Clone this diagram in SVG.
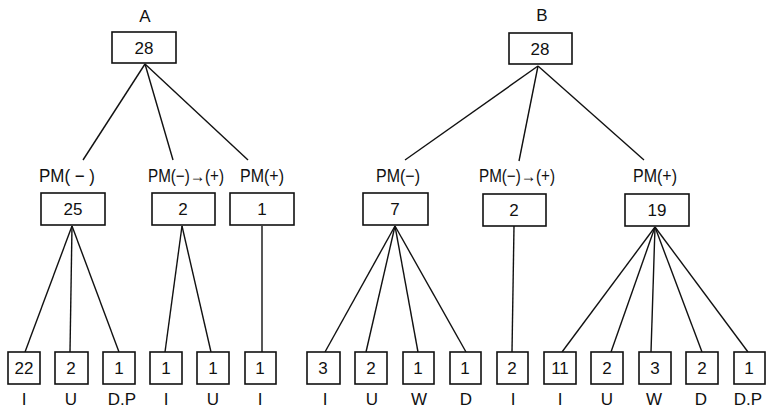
<svg xmlns="http://www.w3.org/2000/svg" width="766" height="414" viewBox="0 0 766 414">
<style>
rect{fill:#fff;stroke:#111;stroke-width:1.6}
line{stroke:#111;stroke-width:1.4}
text{font-family:"Liberation Sans",Arial,sans-serif;font-size:17px;fill:#111;text-anchor:middle}
.pm{font-size:18px}
</style>
<rect x="0" y="0" width="766" height="414" style="fill:#fff;stroke:none"/>
<g id="connectors">
<line x1="145" y1="64" x2="83" y2="160"/>
<line x1="145" y1="64" x2="173" y2="160"/>
<line x1="145" y1="64" x2="248" y2="160"/>
<line x1="72" y1="226" x2="25" y2="352"/>
<line x1="72" y1="226" x2="70" y2="352"/>
<line x1="72" y1="226" x2="119" y2="352"/>
<line x1="182" y1="226" x2="165" y2="352"/>
<line x1="182" y1="226" x2="211" y2="352"/>
<line x1="262" y1="226" x2="262" y2="352"/>
<line x1="538" y1="66" x2="405" y2="160"/>
<line x1="538" y1="66" x2="519" y2="161"/>
<line x1="538" y1="66" x2="644" y2="160"/>
<line x1="395" y1="226" x2="325" y2="352"/>
<line x1="395" y1="226" x2="366" y2="352"/>
<line x1="395" y1="226" x2="418" y2="352"/>
<line x1="395" y1="226" x2="466" y2="352"/>
<line x1="514" y1="226" x2="512" y2="352"/>
<line x1="655" y1="227" x2="562" y2="352"/>
<line x1="655" y1="227" x2="611" y2="352"/>
<line x1="655" y1="227" x2="651" y2="352"/>
<line x1="655" y1="227" x2="702" y2="352"/>
<line x1="655" y1="227" x2="748" y2="352"/>
</g>
<g id="A"><text x="145" y="22">A</text><rect x="112" y="32" width="64" height="31"/><text x="144" y="54">28</text></g>
<g id="B"><text x="542" y="21">B</text><rect x="509" y="33" width="63" height="31"/><text x="540" y="55">28</text></g>
<g id="A-pm-minus"><text class="pm" x="67" y="182" textLength="56" lengthAdjust="spacingAndGlyphs">PM( − )</text><rect x="41" y="193" width="64" height="32"/><text x="73" y="215">25</text></g>
<g id="A-pm-mp"><text class="pm" x="186" y="182" textLength="76" lengthAdjust="spacingAndGlyphs">PM(−)→(+)</text><rect x="152" y="193" width="63" height="32"/><text x="183" y="215">2</text></g>
<g id="A-pm-plus"><text class="pm" x="262" y="182" textLength="44" lengthAdjust="spacingAndGlyphs">PM(+)</text><rect x="230" y="193" width="64" height="32"/><text x="262" y="215">1</text></g>
<g id="B-pm-minus"><text class="pm" x="398" y="182" textLength="44" lengthAdjust="spacingAndGlyphs">PM(−)</text><rect x="363" y="193" width="65" height="32"/><text x="395" y="215">7</text></g>
<g id="B-pm-mp"><text class="pm" x="517" y="182" textLength="76" lengthAdjust="spacingAndGlyphs">PM(−)→(+)</text><rect x="483" y="194" width="63" height="32"/><text x="514" y="216">2</text></g>
<g id="B-pm-plus"><text class="pm" x="655" y="182" textLength="44" lengthAdjust="spacingAndGlyphs">PM(+)</text><rect x="625" y="194" width="64" height="32"/><text x="657" y="216">19</text></g>
<g id="a1"><rect x="8" y="352" width="32" height="32"/><text x="24" y="374">22</text><text x="24" y="405">I</text></g>
<g id="a2"><rect x="55" y="352" width="33" height="32"/><text x="71" y="374">2</text><text x="71" y="405">U</text></g>
<g id="a3"><rect x="103" y="352" width="32" height="32"/><text x="119" y="374">1</text><text x="122" y="405">D.P</text></g>
<g id="a4"><rect x="150" y="352" width="32" height="32"/><text x="166" y="374">1</text><text x="166" y="405">I</text></g>
<g id="a5"><rect x="197" y="352" width="32" height="32"/><text x="213" y="374">1</text><text x="213" y="405">U</text></g>
<g id="a6"><rect x="245" y="352" width="31" height="32"/><text x="260" y="374">1</text><text x="260" y="405">I</text></g>
<g id="b1"><rect x="307" y="352" width="33" height="32"/><text x="323" y="374">3</text><text x="325" y="405">I</text></g>
<g id="b2"><rect x="355" y="352" width="32" height="32"/><text x="371" y="374">2</text><text x="372" y="405">U</text></g>
<g id="b3"><rect x="403" y="352" width="31" height="32"/><text x="418" y="374">1</text><text x="419" y="405">W</text></g>
<g id="b4"><rect x="450" y="352" width="31" height="32"/><text x="465" y="374">1</text><text x="466" y="405">D</text></g>
<g id="b5"><rect x="497" y="352" width="31" height="32"/><text x="512" y="374">2</text><text x="513" y="405">I</text></g>
<g id="b6"><rect x="544" y="352" width="32" height="32"/><text x="560" y="374">11</text><text x="560" y="405">I</text></g>
<g id="b7"><rect x="591" y="352" width="32" height="32"/><text x="607" y="374">2</text><text x="607" y="405">U</text></g>
<g id="b8"><rect x="639" y="352" width="32" height="32"/><text x="655" y="374">3</text><text x="654" y="405">W</text></g>
<g id="b9"><rect x="686" y="352" width="32" height="32"/><text x="702" y="374">2</text><text x="701" y="405">D</text></g>
<g id="b10"><rect x="734" y="352" width="31" height="32"/><text x="749" y="374">1</text><text x="748" y="405">D.P</text></g>
</svg>
